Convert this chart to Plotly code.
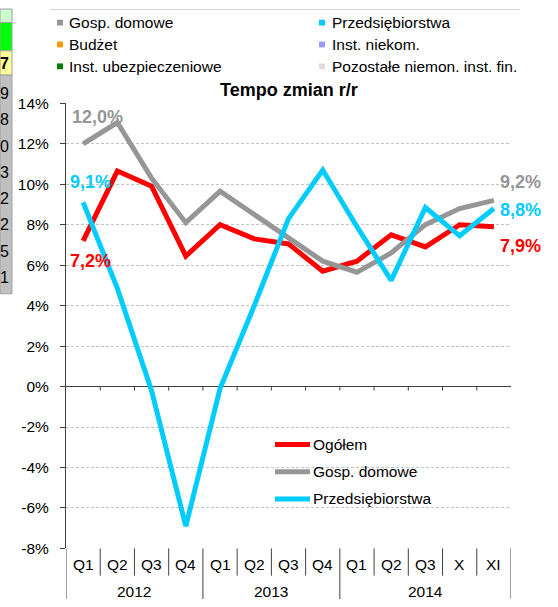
import plotly.graph_objects as go

# ---------------- data ----------------
quarters = ["Q1", "Q2", "Q3", "Q4", "Q1", "Q2", "Q3", "Q4", "Q1", "Q2", "Q3", "X", "XI"]
years = ["2012", "2013", "2014"]
year_spans = [(0, 3), (4, 7), (8, 12)]

ogolem = [7.2, 10.65, 9.9, 6.45, 8.0, 7.3, 7.05, 5.7, 6.2, 7.5, 6.9, 8.0, 7.9]
gosp_domowe = [12.0, 13.05, 10.3, 8.1, 9.65, 8.5, 7.35, 6.2, 5.65, 6.6, 8.0, 8.8, 9.2]
przedsiebiorstwa = [9.1, 4.85, -0.2, -6.9, -0.1, 4.0, 8.3, 10.7, 7.9, 5.25, 8.85, 7.45, 8.8]

series_names = ["Ogółem", "Gosp. domowe", "Przedsiębiorstwa"]
series_colors = ["#ff0000", "#969696", "#00ccff"]

top_legend_left = ["Gosp. domowe", "Budżet", "Inst. ubezpieczeniowe"]
top_legend_left_colors = ["#969696", "#ff9900", "#008000"]
top_legend_right = ["Przedsiębiorstwa", "Inst. niekom.", "Pozostałe niemon. inst. fin."]
top_legend_right_colors = ["#00ccff", "#9999ff", "#dddddd"]

y_ticks = [14, 12, 10, 8, 6, 4, 2, 0, -2, -4, -6, -8]
strip_digits = ["9", "8", "0", "3", "2", "2", "5", "1"]

W, H = 558, 607
FONT = "Liberation Sans, Arial, sans-serif"


def px(x):
    return x / W


def py(y):
    return 1 - y / H


PLOT_L, PLOT_R, PLOT_T, PLOT_B = 66, 511, 97, 555

fig = go.Figure()
xs = list(range(len(quarters)))
for vals, name, col in zip([ogolem, gosp_domowe, przedsiebiorstwa], series_names, series_colors):
    fig.add_trace(go.Scatter(x=xs, y=vals, mode="lines", name=name,
                             line=dict(color=col, width=5), showlegend=False,
                             hoverinfo="skip"))

shapes = []
annotations = []

# bottom category table separators
n = len(quarters)
year_bounds = [3.5, 7.5]
for i in range(n + 1):
    b = i - 0.5
    if i == 0:
        continue
    full = (b in year_bounds) or i == n
    shapes.append(dict(type="line", xref="x", yref="paper", x0=b, x1=b,
                       y0=py(PLOT_B), y1=py(607 if full else 583),
                       line=dict(color="#404040", width=1)))
    # small ticks below zero line
    if i < n:
        shapes.append(dict(type="line", xref="x", yref="y", x0=b, x1=b,
                           y0=0, y1=-0.2, line=dict(color="#404040", width=1)))
# left axis extension down to bottom
shapes.append(dict(type="line", xref="x", yref="paper", x0=-0.5, x1=-0.5,
                   y0=py(PLOT_B), y1=0, line=dict(color="#404040", width=1)))

for i, q in enumerate(quarters):
    annotations.append(dict(x=i, y=py(571.5), xref="x", yref="paper", text=q,
                            showarrow=False, xanchor="center", yanchor="middle",
                            font=dict(family=FONT, size=15.5, color="#000000")))
for yr, (a, b) in zip(years, year_spans):
    annotations.append(dict(x=(a + b) / 2, y=py(599), xref="x", yref="paper", text=yr,
                            showarrow=False, xanchor="center", yanchor="middle",
                            font=dict(family=FONT, size=15.5, color="#000000")))

# data labels
def dlabel(idx, val, text, color, xanchor, xshift, yshift):
    annotations.append(dict(x=idx, y=val, xref="x", yref="y", text="<b>%s</b>" % text,
                            showarrow=False, xanchor=xanchor, yanchor="middle",
                            xshift=xshift, yshift=yshift,
                            font=dict(family=FONT, size=18, color=color)))

fmt = lambda v: ("%.1f%%" % v).replace(".", ",")
dlabel(0, gosp_domowe[0], fmt(gosp_domowe[0]), "#969696", "left", -13, 27)
dlabel(0, przedsiebiorstwa[0], fmt(przedsiebiorstwa[0]), "#00ccff", "left", -15, 20)
dlabel(0, ogolem[0], fmt(ogolem[0]), "#ff0000", "left", -15, -20)
dlabel(n - 1, gosp_domowe[-1], fmt(gosp_domowe[-1]), "#969696", "left", 4, 18)
dlabel(n - 1, przedsiebiorstwa[-1], fmt(przedsiebiorstwa[-1]), "#00ccff", "left", 4, -1)
dlabel(n - 1, ogolem[-1], fmt(ogolem[-1]), "#ff0000", "left", 4, -19)

# inner legend
for k, (name, col) in enumerate(zip(series_names, series_colors)):
    yy = [448, 476, 504][k]
    shapes.append(dict(type="line", xref="paper", yref="paper", x0=px(275), x1=px(310),
                       y0=py(yy), y1=py(yy), line=dict(color=col, width=5)))
    annotations.append(dict(x=px(311), y=py(yy), xref="paper", yref="paper", text=name,
                            showarrow=False, xanchor="left", yanchor="middle",
                            font=dict(family=FONT, size=15.5, color="#000000")))

# title
annotations.append(dict(x=px(288.5), y=py(83), xref="paper", yref="paper",
                        text="<b>Tempo zmian r/r</b>", showarrow=False,
                        xanchor="center", yanchor="middle",
                        font=dict(family=FONT, size=18, color="#000000")))

# top legend
rows_y = [14, 36.5, 59]
for k in range(3):
    for names, cols, mx, tx in [(top_legend_left, top_legend_left_colors, 57, 67),
                                (top_legend_right, top_legend_right_colors, 319, 330)]:
        shapes.append(dict(type="rect", xref="paper", yref="paper",
                           x0=px(mx), x1=px(mx + 6), y0=py(rows_y[k] + 3), y1=py(rows_y[k] - 3),
                           fillcolor=cols[k], line=dict(width=0)))
        annotations.append(dict(x=px(tx), y=py(rows_y[k]), xref="paper", yref="paper",
                                text=names[k], showarrow=False, xanchor="left",
                                yanchor="middle",
                                font=dict(family=FONT, size=15.5, color="#000000")))

# faint line at very top
shapes.append(dict(type="line", xref="paper", yref="paper", x0=px(50), x1=px(520),
                   y0=py(0.5), y1=py(0.5), line=dict(color="#d8d8d8", width=1)))

# spreadsheet strip at left
strip = [(0, 14, "#ccffcc"), (14, 43, "#00ff00"), (43, 68, "#ffff99"), (68, 293, "#c0c0c0")]
for y0, y1, c in strip:
    shapes.append(dict(type="rect", xref="paper", yref="paper", x0=0, x1=px(12),
                       y0=py(y1), y1=py(y0), fillcolor=c,
                       line=dict(color="#a0a0a0", width=1)))
annotations.append(dict(x=px(10.5), y=py(56), xref="paper", yref="paper", text="<b>7</b>",
                        showarrow=False, xanchor="right", yanchor="middle",
                        font=dict(family=FONT, size=16, color="#000000")))
for k, d in enumerate(strip_digits):
    annotations.append(dict(x=px(11), y=py(87 + 27 * k), xref="paper", yref="paper", text=d,
                            showarrow=False, xanchor="right", yanchor="middle",
                            font=dict(family=FONT, size=16, color="#000000")))

fig.update_layout(
    width=W, height=H, autosize=False,
    margin=dict(l=0, r=0, t=0, b=0, pad=0),
    paper_bgcolor="#ffffff", plot_bgcolor="#ffffff",
    showlegend=False,
    xaxis=dict(domain=[px(PLOT_L), px(PLOT_R)], range=[-0.5, n - 0.5],
               showticklabels=False, showgrid=False, zeroline=False, showline=False,
               ticks="", fixedrange=True),
    yaxis=dict(domain=[py(PLOT_B), py(PLOT_T)], range=[-8, 14],
               tickvals=y_ticks, ticktext=["%d%%" % v for v in y_ticks],
               ticks="outside", ticklen=5, tickcolor="#404040", tickwidth=1,
               ticklabelstandoff=8,
               showline=True, linecolor="#404040", linewidth=1,
               showgrid=True, gridcolor="#c4c4c4", gridwidth=1, griddash="3px,2px",
               zeroline=True, zerolinecolor="#404040", zerolinewidth=1,
               tickfont=dict(family=FONT, size=15.5, color="#000000"),
               fixedrange=True),
    shapes=shapes,
    annotations=annotations,
)

fig.write_html(
    "out.html",
    config={"displayModeBar": False, "staticPlot": True},
    post_script="document.body.style.margin='0px';document.body.style.overflow='hidden';",
)
